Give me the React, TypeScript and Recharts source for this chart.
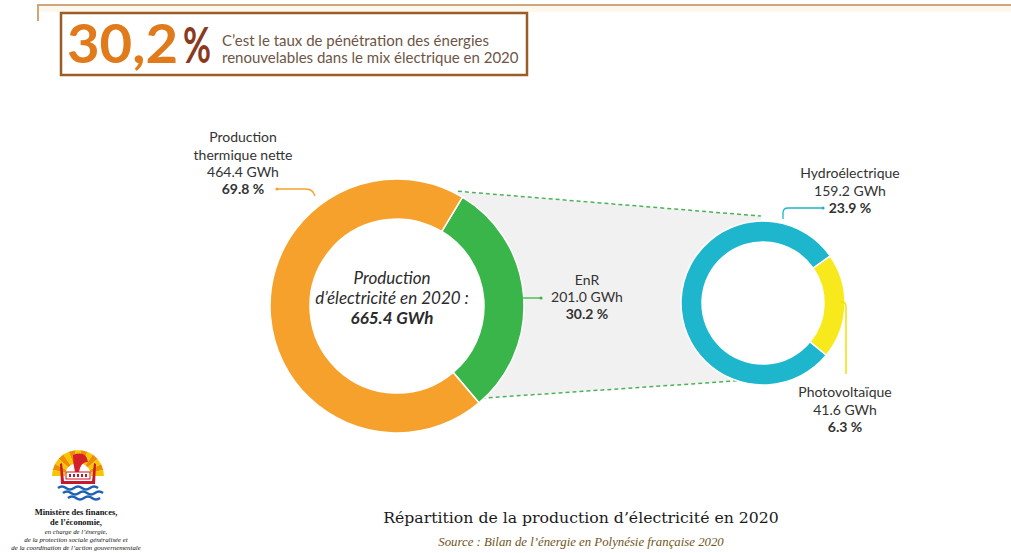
import { PieChart, Pie, Cell } from 'recharts';

// production 2020 (GWh) – main split
const mainNames = ['EnR', 'Production thermique nette'];
const mainValues = [201.0, 464.4];
const mainShares = [30.2, 69.8];
const mainColors = ['#3ab54a', '#f6a12b'];

// detail of the renewables
const enrNames = ['Photovoltaïque', 'Hydroélectrique'];
const enrValues = [41.6, 159.2];
const enrShares = [6.3, 23.9];
const enrColors = ['#f8e91c', '#1db6cc'];

const mainData = mainNames.map((name, i) => ({ name, value: mainValues[i] }));
const enrData = enrNames.map((name, i) => ({ name, value: enrValues[i] }));
const total = mainValues.reduce((s, v) => s + v, 0);

const W = 1011;
const H = 553;
const big = { cx: 392, cy: 301, r: 87, R: 127, start: 59 };
const small = { cx: 758, cy: 298, r: 61, R: 82, start: 35 };

const fmt = (v: number) => v.toFixed(1);
const polar = (cx: number, cy: number, r: number, deg: number) => {
  const a = (deg * Math.PI) / 180;
  return [cx + r * Math.cos(a), cy - r * Math.sin(a)];
};

// angles of the EnR slice in the big ring
const enrFrom = big.start;
const enrTo = big.start - (360 * mainValues[0]) / total;

function zoomBand() {
  const midB = (big.r + big.R) / 2;
  const midS = (small.r + small.R) / 2;
  const a = polar(big.cx, big.cy, midB, enrFrom);
  const b = polar(big.cx, big.cy, big.R, enrFrom);
  const c = polar(small.cx, small.cy, small.R, 88);
  const d = polar(small.cx, small.cy, midS, 88);
  const e = polar(small.cx, small.cy, midS, 266);
  const f = polar(small.cx, small.cy, small.R, 266);
  const g = polar(big.cx, big.cy, big.R, enrTo);
  const h = polar(big.cx, big.cy, midB, enrTo);
  const p = (q: number[]) => `${q[0].toFixed(1)} ${q[1].toFixed(1)}`;
  return {
    path: `M${p(a)} L${p(b)} L${p(c)} L${p(d)} A${midS} ${midS} 0 0 0 ${p(e)} L${p(f)} L${p(g)} L${p(h)} A${midB} ${midB} 0 0 0 ${p(a)} Z`,
    top: [polar(big.cx, big.cy, big.R + 1, enrFrom), c],
    bottom: [polar(big.cx, big.cy, big.R + 1, enrTo), f],
  };
}

function Emblem() {
  const rays = Array.from({ length: 13 }, (_, i) => i);
  return (
    <g>
      {rays.map(i => {
        const a0 = (i * 180) / 13;
        const a1 = ((i + 1) * 180) / 13;
        const p0 = polar(78, 476, 26, a0);
        const p1 = polar(78, 476, 26, a1);
        return (
          <path
            key={i}
            d={`M78 476 L${p0[0]} ${p0[1]} L${p1[0]} ${p1[1]} Z`}
            fill={i % 2 ? '#ef8d00' : '#f7c600'}
          />
        );
      })}
      <circle cx={78} cy={476} r={13} fill="#fff" />
      <path d="M73 455 Q86 450 88 462 Q81 461 79 472 L75 472 Q73 464 73 455 Z" fill="#d4202b" />
      <path d="M62 463 L64 481 L92 481 L94 463 L96 464 L95 484 L61 484 L60 464 Z" fill="#c8182b" />
      <rect x={66} y={472} width={24} height={7} fill="#fff" stroke="#c8182b" strokeWidth={1} />
      {[69, 73, 77, 81, 85].map(x => (
        <rect key={x} x={x} y={474} width={2} height={3} fill="#b01c2a" />
      ))}
      {[488, 493, 498].map((y, i) => (
        <path
          key={y}
          d={`M${58 + i * 5} ${y} q4 -3 8 0 t8 0 t8 0 t8 0 ${i < 2 ? 't8 0' : ''}`}
          fill="none"
          stroke="#1f63b5"
          strokeWidth={2.6}
        />
      ))}
    </g>
  );
}

export default function App() {
  const band = zoomBand();
  const labelFont = 'Lato, "Noto Sans", sans-serif';
  const serif = '"Liberation Serif", "DejaVu Serif", serif';

  return (
    <div style={{ position: 'absolute', left: 0, top: 0, width: W, height: H, background: '#fff', overflow: 'hidden' }}>
      {/* background layer */}
      <svg width={W} height={H} style={{ position: 'absolute', left: 0, top: 0 }}>
        <rect x={38} y={6} width={W - 38} height={6} fill="#fdf8ee" />
        <path d={`M38 21 V5 H${W}`} fill="none" stroke="#cfa57a" strokeWidth={2} />
        <rect x={61} y={13} width={466} height={62} fill="#fff" stroke="#9c5c25" strokeWidth={2.5} />
        <text x={67} y={63} fontFamily={labelFont} fontWeight={700} fontSize={53} fill="#e07a1b"
          textLength={111} lengthAdjust="spacingAndGlyphs">30,2</text>
        <text x={183} y={63} fontFamily={labelFont} fontWeight={700} fontSize={50} fill="#8b3a1e"
          textLength={28} lengthAdjust="spacingAndGlyphs">%</text>
        <text fontFamily={labelFont} fontSize={15} fill="#6e5546">
          <tspan x={222} y={46}>C’est le taux de pénétration des énergies</tspan>
          <tspan x={222} y={63}>renouvelables dans le mix électrique en 2020</tspan>
        </text>

        <path d={band.path} fill="#f2f1f1" />
        {[band.top, band.bottom].map((l, i) => (
          <line
            key={i}
            x1={l[0][0]}
            y1={l[0][1]}
            x2={l[1][0]}
            y2={l[1][1]}
            stroke="#4cb25a"
            strokeWidth={1.5}
            strokeDasharray="4 3"
          />
        ))}

        <Emblem />
        <text fontFamily={serif} fill="#111" textAnchor="middle">
          <tspan x={76} y={515} fontSize={8.5} fontWeight={700}>Ministère des finances,</tspan>
          <tspan x={76} y={525} fontSize={8.5} fontWeight={700}>de l’économie,</tspan>
          <tspan x={76} y={534} fontSize={6.8} fontStyle="italic">en charge de l’énergie,</tspan>
          <tspan x={76} y={542} fontSize={6.8} fontStyle="italic">de la protection sociale généralisée et</tspan>
          <tspan x={76} y={550} fontSize={6.8} fontStyle="italic">de la coordination de l’action gouvernementale</tspan>
        </text>

        <text x={581} y={523} textAnchor="middle" fontFamily={'"DejaVu Serif", serif'} fontSize={15.7} fill="#1a1a1a">
          Répartition de la production d’électricité en 2020
        </text>
        <text x={581} y={546} textAnchor="middle" fontFamily={serif} fontStyle="italic" fontSize={12.8} fill="#6f5421">
          Source : Bilan de l’énergie en Polynésie française 2020
        </text>
      </svg>

      {/* donuts */}
      <div style={{ position: 'absolute', left: 0, top: 0 }}>
        <PieChart width={W} height={H}>
          <Pie
            data={mainData}
            dataKey="value"
            nameKey="name"
            cx={big.cx}
            cy={big.cy}
            innerRadius={big.r}
            outerRadius={big.R}
            startAngle={big.start}
            endAngle={big.start - 360}
            stroke="#fff"
            strokeWidth={1.5}
            isAnimationActive={false}
          >
            {mainData.map((d, i) => (
              <Cell key={d.name} fill={mainColors[i]} />
            ))}
          </Pie>
          <Pie
            data={enrData}
            dataKey="value"
            nameKey="name"
            cx={small.cx}
            cy={small.cy}
            innerRadius={small.r}
            outerRadius={small.R}
            startAngle={small.start}
            endAngle={small.start - 360}
            stroke="#fff"
            strokeWidth={1.5}
            isAnimationActive={false}
          >
            {enrData.map((d, i) => (
              <Cell key={d.name} fill={enrColors[i]} />
            ))}
          </Pie>
        </PieChart>
      </div>

      {/* labels and leader lines */}
      <svg width={W} height={H} style={{ position: 'absolute', left: 0, top: 0, pointerEvents: 'none' }}>
        <g fontFamily={labelFont} fill="#2b2b2b" textAnchor="middle" fontStyle="italic">
          <text x={big.cx} y={284} fontSize={17}>Production</text>
          <text x={big.cx} y={304} fontSize={17}>d’électricité en 2020 :</text>
          <text x={big.cx} y={324} fontSize={17} fontWeight={700}>{fmt(total)} GWh</text>
        </g>

        <g fontFamily={labelFont} fontSize={14} fill="#333" textAnchor="middle">
          <text x={243} y={142}>Production</text>
          <text x={243} y={160}>thermique nette</text>
          <text x={243} y={177}>{fmt(mainValues[1])} GWh</text>
          <text x={243} y={194} fontWeight={700}>{fmt(mainShares[1])} %</text>

          <text x={587} y={285}>{mainNames[0]}</text>
          <text x={587} y={302}>{fmt(mainValues[0])} GWh</text>
          <text x={587} y={319} fontWeight={700}>{fmt(mainShares[0])} %</text>

          <text x={850} y={178}>{enrNames[1]}</text>
          <text x={850} y={196}>{fmt(enrValues[1])} GWh</text>
          <text x={850} y={213} fontWeight={700}>{fmt(enrShares[1])} %</text>

          <text x={845} y={397}>{enrNames[0]}</text>
          <text x={845} y={415}>{fmt(enrValues[0])} GWh</text>
          <text x={845} y={432} fontWeight={700}>{fmt(enrShares[0])} %</text>
        </g>

        <path d="M276 189 H306 Q313 189 315 196" fill="none" stroke={mainColors[1]} strokeWidth={1.3} />
        <circle cx={277} cy={189} r={1.6} fill={mainColors[1]} />
        <path d={`M${big.cx + big.R + 1} 298 H541`} fill="none" stroke={mainColors[0]} strokeWidth={1.3} />
        <circle cx={541} cy={298} r={1.6} fill={mainColors[0]} />
        <path d="M783 219 V213 Q783 208 788 208 H823" fill="none" stroke={enrColors[1]} strokeWidth={1.3} />
        <circle cx={823} cy={208} r={1.6} fill={enrColors[1]} />
        <path d="M841 302 H842 Q846 302 846 307 V374" fill="none" stroke="#f2e200" strokeWidth={1.5} />
      </svg>
    </div>
  );
}
